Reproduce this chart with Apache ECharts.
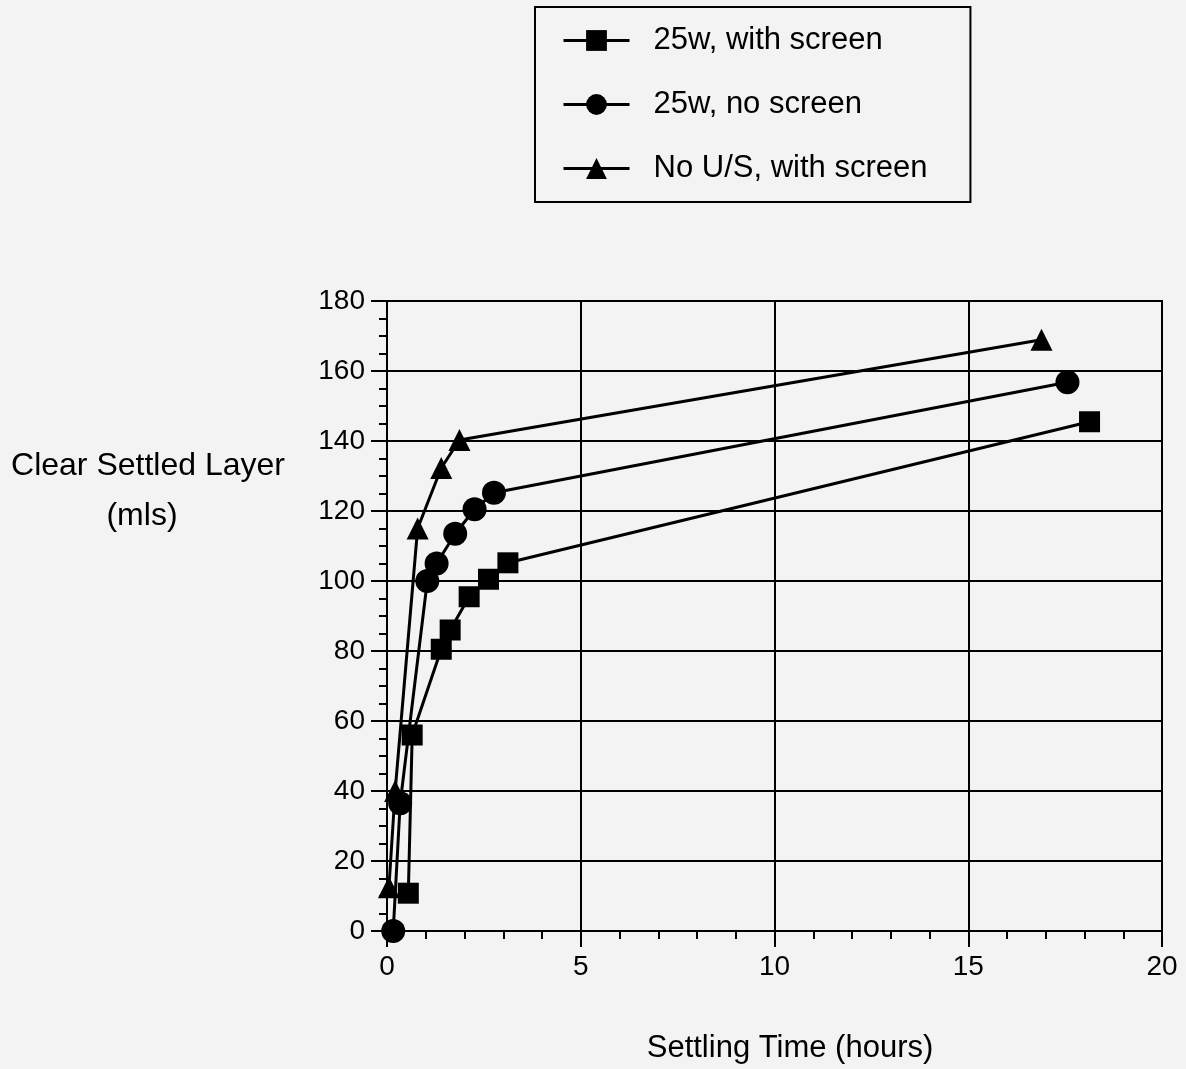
<!DOCTYPE html>
<html>
<head>
<meta charset="utf-8">
<script src="https://cdn.jsdelivr.net/npm/echarts@6/dist/echarts.min.js"></script>
<style>
html,body{margin:0;padding:0;background:#f3f3f3;}
#chart{width:1186px;height:1069px;}
</style>
</head>
<body>
<div id="chart"></div>
<script>
var seriesNames = ["25w, with screen", "25w, no screen", "No U/S, with screen"];
var withScreen25w = [[0.55,10.8],[0.65,56],[1.40,80.5],[1.63,86],[2.12,95.5],[2.62,100.5],[3.12,105.2],[18.13,145.5]];
var noScreen25w = [[0.16,0],[0.34,36.5],[1.04,100],[1.28,105],[1.76,113.5],[2.26,120.5],[2.76,125.2],[17.56,156.8]];
var noUSWithScreen = [[0.05,12.5],[0.21,40],[0.79,115],[1.40,132.3],[1.87,140.3],[16.89,168.9]];
var xTicks = [0, 5, 10, 15, 20];
var yTicks = [0, 20, 40, 60, 80, 100, 120, 140, 160, 180];
var yTitle = ["Clear Settled Layer", "(mls)"];
var xTitle = "Settling Time (hours)";

var FONT = "Liberation Sans, Arial, Helvetica, sans-serif";
var chart = echarts.init(document.getElementById('chart'));
function mk(name, data, symbol, size) {
  return {
    name: name, type: 'line', data: data, symbol: symbol, symbolSize: size,
    clip: false, showAllSymbol: true,
    lineStyle: {color: '#000', width: 3},
    itemStyle: {color: '#000'},
    emphasis: {disabled: true}
  };
}
chart.setOption({
  backgroundColor: '#f3f3f3',
  animation: false,
  legend: {
    orient: 'vertical', left: 535, top: 7,
    padding: [18, 43, 18, 27],
    borderColor: '#000', borderWidth: 2,
    itemWidth: 66, itemHeight: 26, itemGap: 33,
    lineStyle: {width: 3, color: '#000'},
    textStyle: {fontFamily: FONT, fontSize: 31, lineHeight: 26, color: '#000', padding: [0, 0, 0, 19]},
    data: seriesNames
  },
  grid: {left: 387, top: 301, right: 24, bottom: 138, show: false},
  xAxis: {
    type: 'value', min: 0, max: 20, interval: 5,
    axisLine: {show: true, lineStyle: {color: '#000', width: 2}},
    axisTick: {show: true, length: 16, lineStyle: {color: '#000', width: 2}},
    minorTick: {show: true, splitNumber: 5, length: 8, lineStyle: {color: '#000', width: 2}},
    splitLine: {show: true, lineStyle: {color: '#000', width: 2}},
    axisLabel: {fontFamily: FONT, fontSize: 28, color: '#000', margin: 22,
      formatter: function (v) { return xTicks.indexOf(v) >= 0 ? String(v) : ''; }}
  },
  yAxis: {
    type: 'value', min: 0, max: 180, interval: 20,
    axisLine: {show: true, lineStyle: {color: '#000', width: 2}},
    axisTick: {show: true, length: 16, lineStyle: {color: '#000', width: 2}},
    minorTick: {show: true, splitNumber: 4, length: 8, lineStyle: {color: '#000', width: 2}},
    splitLine: {show: true, lineStyle: {color: '#000', width: 2}},
    axisLabel: {fontFamily: FONT, fontSize: 28, color: '#000', margin: 22,
      formatter: function (v) { return yTicks.indexOf(v) >= 0 ? String(v) : ''; }}
  },
  graphic: [
    {type: 'rect', left: 1161, top: 300, shape: {width: 2, height: 632}, style: {fill: '#000'}, silent: true},
    {type: 'text', x: 148, y: 466, style: {text: yTitle[0], font: '32px ' + FONT, fill: '#000', textAlign: 'center', textVerticalAlign: 'middle'}},
    {type: 'text', x: 142, y: 516, style: {text: yTitle[1], font: '32px ' + FONT, fill: '#000', textAlign: 'center', textVerticalAlign: 'middle'}},
    {type: 'text', x: 790, y: 1048, style: {text: xTitle, font: '31px ' + FONT, fill: '#000', textAlign: 'center', textVerticalAlign: 'middle'}}
  ],
  series: [
    mk(seriesNames[0], withScreen25w, 'rect', 21),
    mk(seriesNames[1], noScreen25w, 'circle', 24),
    mk(seriesNames[2], noUSWithScreen, 'triangle', 22)
  ]
});
</script>
</body>
</html>
